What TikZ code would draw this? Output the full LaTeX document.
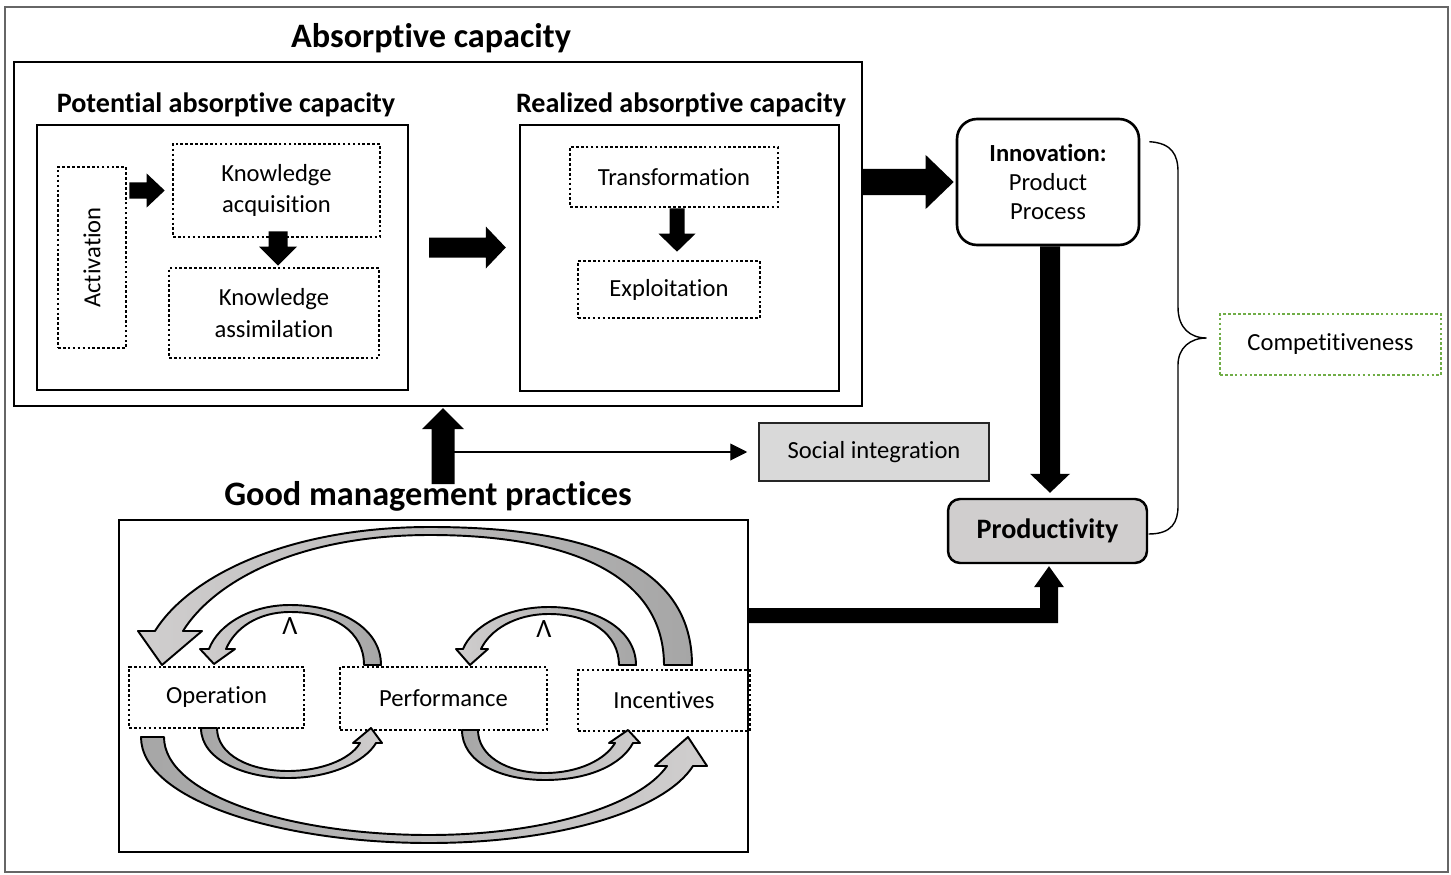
\documentclass[tikz,border=0pt]{standalone}
\usepackage{fontspec}
\setmainfont{Carlito}[Ligatures=NoCommon]
\usetikzlibrary{calc,arrows.meta}
\definecolor{dgray}{HTML}{A6A6A6}
\definecolor{lgray}{HTML}{D0CECE}
\definecolor{sgray}{HTML}{D9D9D9}
\definecolor{cgreen}{HTML}{70AD47}
\newcommand\blkR[5]{\fill ($(#1)+(0,-#3)$) -- ($(#2)+(-#5,-#3)$) -- ($(#2)+(-#5,-#4)$) -- (#2) -- ($(#2)+(-#5,#4)$) -- ($(#2)+(-#5,#3)$) -- ($(#1)+(0,#3)$) -- cycle;}
\newcommand\blkD[5]{\fill ($(#1)+(-#3,0)$) -- ($(#2)+(-#3,-#5)$) -- ($(#2)+(-#4,-#5)$) -- (#2) -- ($(#2)+(#4,-#5)$) -- ($(#2)+(#3,-#5)$) -- ($(#1)+(#3,0)$) -- cycle;}
\newcommand\blkU[5]{\fill ($(#1)+(-#3,0)$) -- ($(#2)+(-#3,#5)$) -- ($(#2)+(-#4,#5)$) -- (#2) -- ($(#2)+(#4,#5)$) -- ($(#2)+(#3,#5)$) -- ($(#1)+(#3,0)$) -- cycle;}
\tikzset{
 body/.style={font=\fontsize{14}{18}\selectfont},
 ttl/.style={font=\bfseries\fontsize{19.5}{23}\selectfont},
 subttl/.style={font=\bfseries\fontsize{16}{19}\selectfont},
 frame/.style={draw, line width=1.4pt, inner sep=0pt},
 dotbox/.style={draw, line width=1.5pt, dash pattern=on 1.5pt off 1.3pt, inner sep=0pt, align=center, body},
 carrow/.style={draw, line width=1.1pt, line join=round},
 caret/.style={font=\fontsize{15}{17}\selectfont, inner sep=0pt},
}
\begin{document}
\begin{tikzpicture}[x=0.02cm, y=-0.02cm]
\useasboundingbox (0,0) rectangle (1451,875);
\draw[black!60, line width=0.7pt] (5,7) rectangle (1448,872);

% absorptive capacity
\node[frame, minimum width=16.96cm, minimum height=6.88cm] (absorb) at (438,234) {};
\node[ttl] (tabs) at (431,38) {Absorptive capacity};
\node[frame, minimum width=7.42cm, minimum height=5.3cm] (pot) at (222.5,257.5) {};
\node[subttl] (tpot) at (226,105) {Potential absorptive capacity};
\node[frame, minimum width=6.38cm, minimum height=5.32cm] (real) at (679.5,258) {};
\node[subttl] (treal) at (681,105) {Realized absorptive capacity};
\node[dotbox, minimum width=1.36cm, minimum height=3.62cm] (act) at (92,257.5) {};
\node[body, rotate=90] (tact) at (act) {Activation};
\node[dotbox, minimum width=4.14cm, minimum height=1.86cm] (acq) at (276.5,190.5) {Knowledge\\acquisition};
\node[dotbox, minimum width=4.2cm, minimum height=1.8cm] (assim) at (274,313) {Knowledge\\assimilation};
\node[dotbox, minimum width=4.16cm, minimum height=1.2cm] (transf) at (674,177) {Transformation};
\node[dotbox, minimum width=3.64cm, minimum height=1.14cm] (exploit) at (669,289.5) {Exploitation};

% right side
\node[draw, line width=1.5pt, rounded corners=0.4cm, minimum width=3.64cm, minimum height=2.52cm, align=center, font=\fontsize{14}{16.7}\selectfont] (innov) at (1048,182) {\textbf{Innovation:}\\Product\\Process};
\node[draw, line width=1.4pt, rounded corners=0.24cm, fill=lgray, minimum width=3.98cm, minimum height=1.28cm, subttl] (prod) at (1047.5,531) {Productivity};
\node[draw=black!85, line width=0.9pt, fill=sgray, minimum width=4.6cm, minimum height=1.16cm, body] (social) at (874,452) {Social integration};
\node[dotbox, draw=cgreen, minimum width=4.42cm, minimum height=1.22cm] (comp) at (1330.5,344.5) {Competitiveness};

% good management practices
\node[frame, minimum width=12.58cm, minimum height=6.64cm] (gmp) at (433.5,686) {};
\node[ttl] (tgmp) at (428,496) {Good management practices};
\node[dotbox, minimum width=3.5cm, minimum height=1.22cm] (oper) at (216.5,697.5) {Operation};
\node[dotbox, minimum width=4.14cm, minimum height=1.26cm] (perf) at (443.5,698.5) {Performance};
\node[dotbox, minimum width=3.44cm, minimum height=1.22cm] (incent) at (664,700.5) {Incentives};

% block arrows
\coordinate (a1s) at ($(act.east |- acq.west)+(2,0)$);
\coordinate (a1e) at ($(acq.west)+(-7,0)$);
\blkR{a1s}{a1e}{8}{17}{18}
\coordinate (a2s) at ($(acq.south)+(1.5,-7)$);
\coordinate (a2e) at ($(a2s |- assim.north)+(0,-1)$);
\blkD{a2s}{a2e}{9.5}{19}{19}
\coordinate (a3s) at ($(pot.east)+(20,-10)$);
\coordinate (a3e) at ($(real.west |- a3s)+(-13,0)$);
\blkR{a3s}{a3e}{10}{21}{20}
\coordinate (a4s) at ($(transf.south)+(3,0)$);
\coordinate (a4e) at ($(a4s |- exploit.north)+(0,-8)$);
\blkD{a4s}{a4e}{7.5}{18.5}{18}
\coordinate (a5s) at (absorb.east |- innov.west);
\coordinate (a5e) at ($(innov.west)+(-2,0)$);
\blkR{a5s}{a5e}{13}{27}{28}
\coordinate (a6s) at ($(innov.south)+(2,0)$);
\coordinate (a6e) at ($(a6s |- prod.north)+(0,-5)$);
\blkD{a6s}{a6e}{10}{20}{19}
\coordinate (a7s) at ($(absorb.south)+(5,77)$);
\coordinate (a7e) at ($(absorb.south)+(5,1)$);
\draw[line width=0.6pt, -{Triangle[length=9.6pt,width=9.6pt]}] (a7s |- social.west) -- ($(social.west)+(-11,0)$);
\blkU{a7s}{a7e}{11.5}{21}{21}
% elbow arrow to productivity
\coordinate (e0) at ($(gmp.east)+(0,-70.5)$);
\coordinate (tip) at ($(prod.south)+(1.5,2)$);
\fill ($(e0)+(0,-7.5)$) -- ($(e0 -| tip)+(-9,-7.5)$) -- ($(tip)+(-9,21)$) -- ($(tip)+(-15,21)$) -- (tip)
  -- ($(tip)+(15,21)$) -- ($(tip)+(9,21)$) -- ($(e0 -| tip)+(9,7.5)$) -- ($(e0)+(0,7.5)$) -- cycle;

% brace
\coordinate (bt) at ($(innov.north east)+(9,24)$);
\coordinate (bb) at ($(prod.east)+(0.5,3)$);
\coordinate (bc) at ($(comp.west)+(-12,-6.5)$);
\draw[line width=0.8pt] (bt) .. controls (1172,143) and (1178,155) .. (1178,172) -- (1178,307)
  .. controls (1178,328) and (1190,338) .. (bc) .. controls (1190,338) and (1178,348) .. (1178,365)
  -- (1178,506) .. controls (1178,522) and (1172,534) .. (bb);

% curved arrows
\shadedraw[carrow, left color=lgray, right color=dgray]
  (692,665) .. controls (692,565) and (590,527) .. (430,527) .. controls (290,527) and (190,575) .. (155,631)
  -- (138,631) -- (162,665) -- (202,631) -- (183,631)
  .. controls (215,580) and (300,535) .. (430,535) .. controls (570,535) and (664,575) .. (664,665) -- cycle;
\shadedraw[carrow, left color=lgray, right color=dgray]
  (381,665) .. controls (381,628) and (340,605) .. (290,605) .. controls (250,605) and (218,625) .. (209,649)
  -- (200,649) -- (214,664) -- (235,649) -- (226,649)
  .. controls (235,628) and (258,612) .. (290,612) .. controls (335,612) and (364,632) .. (364,665) -- cycle;
\shadedraw[carrow, left color=lgray, right color=dgray]
  (636,665) .. controls (636,630) and (597,607) .. (549,607) .. controls (505,607) and (472,627) .. (463,649)
  -- (456,649) -- (470,665) -- (488,649) -- (481,649)
  .. controls (490,630) and (515,614) .. (549,614) .. controls (590,614) and (619,634) .. (619,665) -- cycle;
\shadedraw[carrow, left color=dgray, right color=lgray]
  (201,728) .. controls (201,760) and (245,778) .. (288,778) .. controls (330,778) and (365,762) .. (376,743)
  -- (382,743) -- (371,728) -- (353,743) -- (360,743)
  .. controls (350,760) and (320,771) .. (288,771) .. controls (250,771) and (217,755) .. (217,728) -- cycle;
\shadedraw[carrow, left color=dgray, right color=lgray]
  (462,730) .. controls (462,762) and (500,780) .. (545,780) .. controls (590,780) and (622,764) .. (633,743)
  -- (640,743) -- (628,730) -- (609,743) -- (615,743)
  .. controls (605,760) and (578,773) .. (545,773) .. controls (505,773) and (478,755) .. (478,730) -- cycle;
\shadedraw[carrow, left color=dgray, right color=lgray]
  (141,737) .. controls (141,800) and (280,843) .. (429,843) .. controls (560,843) and (665,810) .. (693,766)
  -- (707,766) -- (688,737) -- (655,766) -- (667,766)
  .. controls (640,805) and (545,835) .. (429,835) .. controls (290,835) and (164,795) .. (164,737) -- cycle;
\node[caret] (c1) at (290,626.5) {Λ};
\node[caret] (c2) at (544,629) {Λ};
\end{tikzpicture}
\end{document}
